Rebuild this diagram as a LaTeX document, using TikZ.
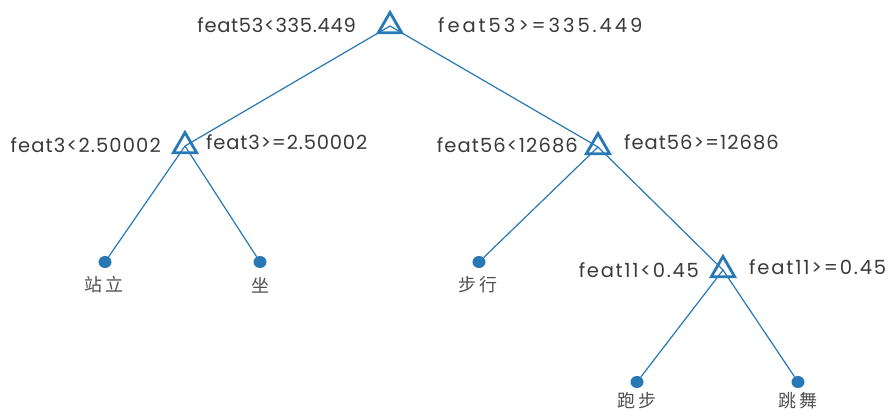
\documentclass[tikz,border=0pt]{standalone}
\usepackage{fontspec}
\setmainfont{Poppins}
\newfontfamily\cjk{Noto Sans CJK SC}
\usetikzlibrary{shapes.geometric}
\definecolor{treeblue}{HTML}{2878B5}
\definecolor{labelgray}{HTML}{3A3A3A}
\definecolor{leafgray}{HTML}{505050}
\newcommand{\leafname}[2]{#1\hspace{3.5pt}#2}
\begin{document}
\begin{tikzpicture}[x=1pt,y=-1pt,
  split/.style={draw=treeblue,line width=2.8pt,regular polygon,regular polygon sides=3,
    minimum size=27pt,inner sep=0pt,line join=miter},
  leaf/.style={fill=treeblue,ellipse,minimum width=13pt,minimum height=12pt,inner sep=0pt},
  edge/.style={draw=treeblue,line width=1.2pt},
  rule/.style={text=labelgray,inner sep=0pt,
    font=\fontsize{19.5}{22}\selectfont\addfontfeatures{LetterSpace=#1}},
  leaflabel/.style={text=leafgray,font=\cjk\fontsize{18}{20}\selectfont,inner sep=0pt}]
\useasboundingbox (0,0) rectangle (888,410);
% split points (centroids) and leaves
\coordinate (r) at (390,26);
\coordinate (a) at (185,146);
\coordinate (b) at (598,147);
\coordinate (c) at (723,270);
\node[leaf] (l1) at (105,262) {};
\node[leaf] (l2) at (260,262) {};
\node[leaf] (l3) at (479,262) {};
\node[leaf] (l4) at (637,382) {};
\node[leaf] (l5) at (798,382) {};
% edges
\draw[edge] (r) -- (a);
\draw[edge] (r) -- (b);
\draw[edge] (a) -- (l1);
\draw[edge] (a) -- (l2);
\draw[edge] (b) -- (l3);
\draw[edge] (b) -- (c);
\draw[edge] (c) -- (l4);
\draw[edge] (c) -- (l5);
% split markers
\node[split] (rt) at (r) {};
\node[split] (at) at (a) {};
\node[split] (bt) at (b) {};
\node[split] (ct) at (c) {};
% rule labels
\node[rule=3.5,anchor=base east] (r1) at (356,32) {feat53<335.449};
\node[rule=15,anchor=base west] (r2) at (438,32) {feat53>=335.449};
\node[rule=5.8,anchor=base east] (a1) at (161,152) {feat3<2.50002};
\node[rule=4.2,anchor=base west] (a2) at (206,149) {feat3>=2.50002};
\node[rule=5.7,anchor=base east] (b1) at (578,152) {feat56<12686};
\node[rule=5.1,anchor=base west] (b2) at (624,149) {feat56>=12686};
\node[rule=8.7,anchor=base east] (c1) at (699,277) {feat11<0.45};
\node[rule=9.4,anchor=base west] (c2) at (749,274) {feat11>=0.45};
% leaf labels
\node[leaflabel] (t1) at (104,285) {\leafname{站}{立}};
\node[leaflabel] (t2) at (260,285) {坐};
\node[leaflabel] (t3) at (478,285) {\leafname{步}{行}};
\node[leaflabel] (t4) at (637,401) {\leafname{跑}{步}};
\node[leaflabel] (t5) at (798,401) {\leafname{跳}{舞}};
\end{tikzpicture}
\end{document}
